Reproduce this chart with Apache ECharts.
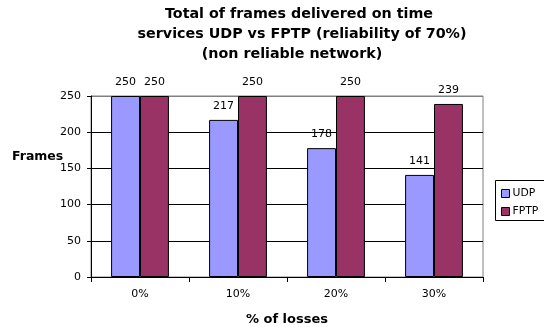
<!DOCTYPE html>
<html>
<head>
<meta charset="utf-8">
<script src="https://cdn.jsdelivr.net/npm/echarts@6/dist/echarts.min.js"></script>
<style>html,body{margin:0;padding:0;background:#fff}#c{width:544px;height:327px}</style>
</head>
<body>
<div id="c"></div>
<script>
const categories = ['0%', '10%', '20%', '30%'];
const udpValues = [250, 217, 178, 141];
const fptpValues = [250, 250, 250, 239];
const seriesNames = ['UDP', 'FPTP'];
const titleLines = ['Total of frames delivered on time', 'services UDP vs FPTP (reliability of 70%)', '(non reliable network)'];
const yAxisTitle = 'Frames';
const xAxisTitle = '% of losses';
const yTicks = { min: 0, max: 250, interval: 50 };

const FONT = 'DejaVu Sans';
const chart = echarts.init(document.getElementById('c'), null, { renderer: 'canvas' });
const titleCenters = [299, 302, 292];
const titleTops = [7, 27, 47];
chart.setOption({
  animation: false,
  backgroundColor: '#fff',
  title: titleLines.map((t, i) => ({
    text: t, left: titleCenters[i], top: titleTops[i], textAlign: 'center', padding: 0,
    textStyle: { fontFamily: FONT, fontWeight: 'bold', fontSize: 14.3, color: '#000' }
  })),
  graphic: [{
    type: 'rect', left: 495, top: 180, z: 0,
    shape: { width: 80, height: 40 },
    style: { fill: '#fff', stroke: '#000', lineWidth: 1 }
  }, {
    type: 'text', left: 12, top: 150, z: 5,
    style: { text: yAxisTitle, fill: '#000', font: 'bold 12.5px "DejaVu Sans"' }
  }],
  legend: {
    orient: 'vertical', left: 501, top: 188, padding: 0, z: 5,
    itemGap: 7, itemWidth: 8, itemHeight: 8,
    textStyle: { fontFamily: FONT, fontSize: 10.8, color: '#000', padding: [0, 0, 0, -2] },
    itemStyle: { borderColor: '#000', borderWidth: 1 },
    data: seriesNames.map(n => ({ name: n, icon: 'rect' }))
  },
  grid: { left: 91, right: 61, top: 96, bottom: 50, containLabel: false, outerBoundsMode: 'none',
    show: true, borderColor: '#808080', borderWidth: 1 },
  xAxis: {
    type: 'category', data: categories,
    name: xAxisTitle, nameLocation: 'middle', nameGap: 36,
    nameTextStyle: { fontFamily: FONT, fontWeight: 'bold', fontSize: 13, color: '#000' },
    axisLine: { lineStyle: { color: '#000' } },
    axisTick: { show: true, length: 5, lineStyle: { color: '#000' } },
    axisLabel: { fontFamily: FONT, fontSize: 11, color: '#000', margin: 12 }
  },
  yAxis: {
    type: 'value', min: yTicks.min, max: yTicks.max, interval: yTicks.interval,
    axisLine: { show: true, lineStyle: { color: '#000' } },
    axisTick: { show: true, length: 4, lineStyle: { color: '#000' } },
    axisLabel: { fontFamily: FONT, fontSize: 11, color: '#000', margin: 10 },
    splitLine: { show: true, lineStyle: { color: ['#000', '#000', '#000', '#000', '#000', '#808080'], width: 1 } }
  },
  series: [
    { name: seriesNames[0], type: 'bar', data: udpValues, barGap: '0%', barCategoryGap: '41%',
      itemStyle: { color: '#9999FF', borderColor: '#000', borderWidth: 1 },
      label: { show: true, position: 'top', distance: 8, fontFamily: FONT, fontSize: 11, color: '#000' } },
    { name: seriesNames[1], type: 'bar', data: fptpValues, barGap: '0%', barCategoryGap: '41%',
      itemStyle: { color: '#993366', borderColor: '#000', borderWidth: 1 },
      label: { show: true, position: 'top', distance: 8, fontFamily: FONT, fontSize: 11, color: '#000' } }
  ]
});
</script>
</body>
</html>
